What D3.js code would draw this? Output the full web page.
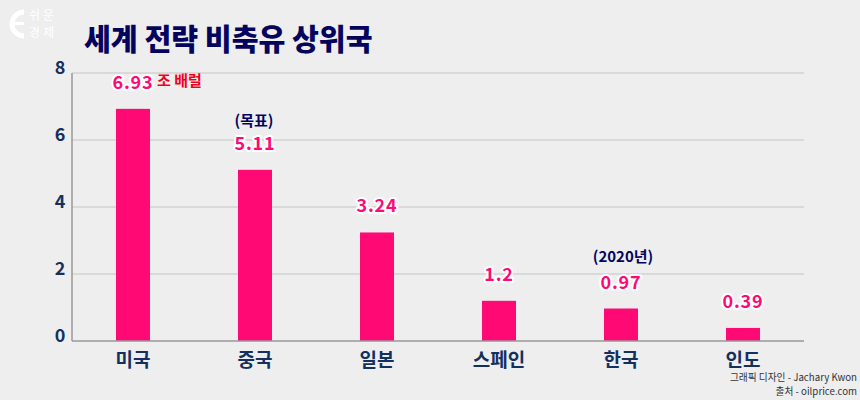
<!DOCTYPE html>
<html>
<head>
<meta charset="utf-8">
<script src="https://cdn.jsdelivr.net/npm/d3@7"></script>
<style>
  html, body { margin: 0; padding: 0; background: #eeeeee; }
  text { font-family: "Noto Sans CJK KR", "Noto Sans", sans-serif; }
</style>
</head>
<body>
<svg id="chart" width="860" height="400"></svg>
<script>
// chart values
var countries = ["미국", "중국", "일본", "스페인", "한국", "인도"];
var reserves = [6.93, 5.11, 3.24, 1.2, 0.97, 0.39];
var valueLabels = ["6.93", "5.11", "3.24", "1.2", "0.97", "0.39"];
var yTicks = [0, 2, 4, 6, 8];
var notes = [
    {country: "중국", text: "(목표)"},
    {country: "한국", text: "(2020년)"}
];
var sourceLines = ["그래픽 디자인 - Jachary Kwon", "출처 - oilprice.com"];

var svg = d3.select("#chart");

var x = d3.scaleBand().domain(countries).range([72, 804]);
var y = d3.scaleLinear().domain([0, 8]).range([341, 73]);
var barWidth = 34;

// background
svg.append("rect").attr("width", 860).attr("height", 400).attr("fill", "#eeeeee");

// logo
var logo = svg.append("g").attr("fill", "#ffffff");
logo.append("path")
    .attr("d", "M24 12 A12 12 0 1 0 24 36")
    .attr("fill", "none").attr("stroke", "#ffffff").attr("stroke-width", 5);
logo.append("rect").attr("x", 11).attr("y", 22).attr("width", 13).attr("height", 3);
logo.append("text").attr("x", 29).attr("y", 20).attr("font-size", 12).attr("letter-spacing", 3).text("쉬운");
logo.append("text").attr("x", 29).attr("y", 37).attr("font-size", 12).attr("letter-spacing", 3).text("경제");

// title
svg.append("text")
    .attr("x", 84).attr("y", 50)
    .attr("font-size", 29.2).attr("font-weight", 900)
    .attr("fill", "#04045f")
    .text("세계 전략 비축유 상위국");

// gridlines
svg.selectAll(".grid")
    .data(yTicks.filter(d => d > 0))
    .join("line")
    .attr("class", "grid")
    .attr("x1", 72).attr("x2", 804)
    .attr("y1", d => y(d)).attr("y2", d => y(d))
    .attr("stroke", "#d2d2d2").attr("stroke-width", 1.5);

// bars
svg.selectAll(".bar")
    .data(reserves)
    .join("rect")
    .attr("class", "bar")
    .attr("x", (d, i) => x(countries[i]) + x.bandwidth() / 2 - barWidth / 2)
    .attr("y", d => y(d))
    .attr("width", barWidth)
    .attr("height", d => y(0) - y(d))
    .attr("fill", "#ff0a75");

// axes lines
svg.append("line").attr("x1", 72).attr("x2", 72).attr("y1", 73).attr("y2", 341)
    .attr("stroke", "#999999").attr("stroke-width", 1.5);
svg.append("line").attr("x1", 72).attr("x2", 804).attr("y1", y(0)).attr("y2", y(0))
    .attr("stroke", "#999999").attr("stroke-width", 1.5);

// y tick labels
svg.selectAll(".ytick")
    .data(yTicks)
    .join("text")
    .attr("class", "ytick")
    .attr("x", 60).attr("y", d => y(d) + 1)
    .attr("text-anchor", "middle")
    .attr("font-size", 18).attr("font-weight", 700)
    .attr("fill", "#14305f")
    .text(d => d);

// category labels
svg.selectAll(".xtick")
    .data(countries)
    .join("text")
    .attr("class", "xtick")
    .attr("x", d => x(d) + x.bandwidth() / 2)
    .attr("y", 367)
    .attr("text-anchor", "middle")
    .attr("font-size", 19).attr("font-weight", 700)
    .attr("fill", "#14305f")
    .text(d => d);

// value labels with white outline
svg.selectAll(".value")
    .data(reserves)
    .join("text")
    .attr("class", "value")
    .attr("x", (d, i) => x(countries[i]) + x.bandwidth() / 2)
    .attr("y", d => y(d) - 20)
    .attr("text-anchor", "middle")
    .attr("font-size", 18).attr("font-weight", 700)
    .attr("letter-spacing", 0.8)
    .attr("fill", "#ff0a75")
    .attr("stroke", "#ffffff").attr("stroke-width", 4)
    .attr("stroke-linejoin", "round")
    .attr("paint-order", "stroke")
    .text((d, i) => valueLabels[i]);

// unit next to the first value
svg.append("text")
    .attr("x", 157).attr("y", 86)
    .attr("font-size", 15).attr("font-weight", 700)
    .attr("fill", "#f00020")
    .text("조 배럴");

// notes above bars
svg.selectAll(".note")
    .data(notes)
    .join("text")
    .attr("class", "note")
    .attr("x", d => x(d.country) + x.bandwidth() / 2 + (d.country === "중국" ? -1 : 2))
    .attr("y", d => y(reserves[countries.indexOf(d.country)]) - (d.country === "중국" ? 44 : 47))
    .attr("text-anchor", "middle")
    .attr("font-size", 15).attr("font-weight", 700)
    .attr("fill", "#04045f")
    .text(d => d.text);

// source
svg.selectAll(".source")
    .data(sourceLines)
    .join("text")
    .attr("class", "source")
    .attr("x", 857)
    .attr("y", (d, i) => 381 + i * 14)
    .attr("text-anchor", "end")
    .attr("font-size", 9.7)
    .attr("fill", "#333333")
    .text(d => d);
</script>
</body>
</html>
